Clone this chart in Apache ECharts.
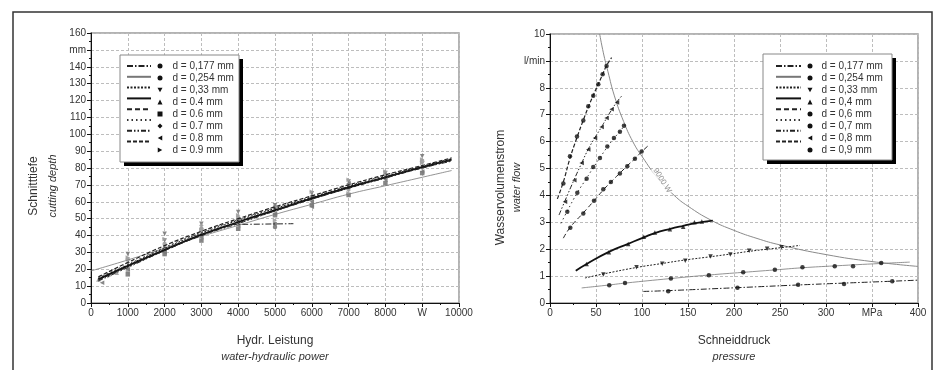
<!DOCTYPE html>
<html><head><meta charset="utf-8">
<script src="https://cdn.jsdelivr.net/npm/echarts@6/dist/echarts.min.js"></script>
<style>html,body{margin:0;padding:0;background:#fff}#c{width:938px;height:370px}</style>
</head><body><div id="c"></div>
<script>
// ---------- tick labels ----------
const leftXTickLabels = ['0','1000','2000','3000','4000','5000','6000','7000','8000','W','10000'];
const leftYTickLabels = ['0','10','20','30','40','50','60','70','80','90','100','110','120','130','140','mm','160'];
const rightXTickLabels = ['0','50','100','150','200','250','300','MPa','400'];
const rightYTickLabels = ['0','1','2','3','4','5','6','7','8','l/min','10'];

// ---------- legend labels ----------
const leftLegendLabels = ['d = 0,177 mm','d = 0,254 mm','d = 0,33 mm','d = 0.4 mm','d = 0.6 mm','d = 0.7 mm','d = 0.8 mm','d = 0.9 mm'];
const rightLegendLabels = ['d = 0,177 mm','d = 0,254 mm','d = 0,33 mm','d = 0,4 mm','d = 0,6 mm','d = 0,7 mm','d = 0,8 mm','d = 0,9 mm'];

// ---------- left chart: cutting depth vs hydraulic power ----------
const leftFitX = [200,1000,2000,3000,4000,5000,6000,7000,8000,9000,9800];
const leftFit0177X = [3800,5500];
const leftFit0177Y = [46.5,47];
const leftFit0254X = [0,1000,2000,3000,4000,5000,6000,7000,8000,9000,9800];
const leftFit0254Y = [19,25.5,32.5,39.5,46,52.5,58.5,64.5,69.5,74.5,78.5];
const leftFit033Y = [14.5,22.5,32.5,41.5,49,56,62.5,69,75,81,85.5];
const leftFit04Y  = [14,22,31.5,40.5,48,55,62,68.5,74.5,80.5,85];
const leftFit06Y  = [13.5,21.5,31,40,47.5,54.5,61.5,68,74.5,80,84.5];
const leftFit07Y  = [15,23,33,42,49.5,56.5,63,69.5,75.5,81,85];
const leftFit08Y  = [13,21,31,40,47,54.5,61.5,68,74,80,84];
const leftFit09Y  = [15.5,24,34,42.5,50,57,63.5,70,76,81.5,86];

const leftPts0177 = [[4000,48],[5000,47],[5000,45]];
const leftPts0254 = [[1000,26],[1000,19],[2000,35],[3000,44],[4000,50],[5000,57],[6000,63],[7000,70],[8000,76],[9000,84]];
const leftPts033  = [[1000,29],[2000,41],[2000,37],[3000,47],[4000,54],[5000,58],[6000,65],[7000,72],[8000,77],[9000,87]];
const leftPts04   = [[200,14],[700,18],[1000,21],[2000,32],[3000,41],[4000,48],[5000,55],[6000,62],[7000,69],[8000,75],[9000,81]];
const leftPts06   = [[1000,17],[2000,29],[3000,37],[4000,44],[5000,52],[6000,58],[7000,64],[8000,71],[9000,77]];
const leftPts07   = [[1000,24],[2000,33],[3000,46],[3000,44],[4000,51],[5000,56],[6000,61],[7000,67],[8000,74],[9000,80]];
const leftPts08   = [[300,12],[1000,20],[2000,30],[3000,39],[4000,46],[5000,53],[6000,60],[6000,57],[7000,71],[8000,73],[9000,78]];
const leftPts09   = [[500,16],[1000,27],[2000,38],[3000,43],[4000,52],[5000,49],[6000,66],[7000,73],[7000,65],[8000,78],[9000,85],[9000,83]];

// ---------- right chart: water flow vs pressure ----------
const powerCurve9000W = [[54,10],[58,9.3],[63,8.6],[70,7.7],[80,6.75],[90,6.0],[100,5.45],[118,4.6],[135,4.0],[150,3.6],[175,3.08],[200,2.7],[225,2.4],[250,2.16],[300,1.8],[350,1.54],[400,1.36]];
const powerCurveLabelPoint = [[122,4.55]];
const powerCurveLabel = '9000 W';
const rightFit0177 = [[101.4,0.43],[128.5,0.46],[203.8,0.57],[269.7,0.67],[319.6,0.74],[372,0.81],[400,0.85]];
const rightFit0254 = [[34.4,0.56],[64.4,0.67],[81.5,0.74],[131.4,0.91],[172.7,1.04],[210,1.14],[244.4,1.23],[274.4,1.31],[309.5,1.38],[360,1.47],[391,1.52]];
const rightFit033  = [[38,0.93],[58,1.08],[94,1.32],[122,1.47],[147,1.6],[174.5,1.72],[196,1.82],[216.5,1.92],[236,2.0],[251.6,2.06],[271.5,2.14]];
const rightFit04   = [[28,1.2],[39.8,1.45],[64,1.9],[85,2.2],[102,2.44],[114,2.6],[130,2.75],[145,2.87],[160,2.98],[177,3.06]];
const rightFit06   = [[14.5,2.41],[22.1,2.82],[36.2,3.35],[47.8,3.8],[57.9,4.2],[66.2,4.5],[76,4.83],[84,5.1],[92.3,5.37],[99.6,5.62],[106.8,5.85]];
const rightFit07   = [[11.9,2.96],[18.8,3.42],[29.7,4.1],[39.8,4.64],[47,5.03],[54.3,5.4],[62.3,5.8],[69.5,6.12],[76,6.38],[81.5,6.62]];
const rightFit08   = [[9.8,3.27],[16.3,3.8],[26.4,4.6],[34.4,5.2],[41.6,5.72],[48.9,6.15],[56.1,6.55],[61.5,6.87],[67,7.18],[72.8,7.48],[78.6,7.72]];
const rightFit09   = [[8,3.87],[14.5,4.5],[21.7,5.38],[29.3,6.15],[36.2,6.8],[41.6,7.28],[47,7.72],[52.5,8.14],[57.2,8.5],[61.5,8.83],[67,9.12]];

const rightPts0177 = [[128.5,0.44],[203.8,0.57],[269.7,0.68],[319.6,0.71],[372,0.81]];
const rightPts0254 = [[64.4,0.66],[81.5,0.74],[131.4,0.91],[172.7,1.03],[210,1.14],[244.4,1.24],[274.4,1.33],[309.5,1.37],[329.4,1.37],[360,1.49]];
const rightPts033  = [[58,1.06],[94,1.33],[122,1.46],[147,1.57],[174.5,1.73],[196,1.8],[216.5,1.94],[236,2.02],[251.6,2.07]];
const rightPts04   = [[39.8,1.45],[64,1.89],[85,2.19],[102,2.46],[114,2.62],[130.3,2.74],[144.8,2.83],[157,3.0],[165,3.03]];
const rightPts06   = [[22.1,2.8],[36.2,3.33],[47.8,3.8],[57.9,4.23],[66.2,4.5],[76,4.81],[84,5.08],[92.3,5.36],[99.6,5.63]];
const rightPts07   = [[18.8,3.39],[29.7,4.1],[39.8,4.62],[47,5.06],[54.3,5.39],[62.3,5.82],[69.5,6.13],[76,6.37],[80.4,6.59]];
const rightPts08   = [[16.3,3.76],[26.4,4.56],[34.4,5.2],[41.6,5.71],[48.9,6.13],[56.1,6.54],[61.5,6.88],[67,7.2],[72.8,7.45]];
const rightPts09   = [[14.5,4.44],[21.7,5.46],[29.3,6.19],[36.2,6.78],[41.6,7.31],[47,7.7],[52.5,8.13],[57.2,8.5],[61.5,8.81]];

// ---------- styles ----------
const FONT = 'Liberation Sans, Arial, sans-serif';
const lineStyles = [
  {color:'#222', width:1, type:[6,2,1.5,2]},
  {color:'#777', width:0.8, type:'solid'},
  {color:'#222', width:1, type:[2,1.5]},
  {color:'#111', width:1.8, type:'solid'},
  {color:'#222', width:1, type:[5,3]},
  {color:'#333', width:1, type:[1.5,3]},
  {color:'#222', width:1, type:[5,2,1.5,2,1.5,2]},
  {color:'#222', width:1.2, type:[4,2]}
];
const TRI_DOWN = 'path://M0,0L10,0L5,9Z';
const TRI_LEFT = 'path://M9,0L9,10L0,5Z';
const TRI_RIGHT = 'path://M0,0L0,10L9,5Z';
const leftSymbols  = ['circle','circle',TRI_DOWN,'triangle','rect','diamond',TRI_LEFT,TRI_RIGHT];
const rightSymbols = ['circle','circle',TRI_DOWN,'triangle','circle','circle',TRI_LEFT,'circle'];

const zip = (xs, ys) => xs.map((x,i)=>[x, ys[i]]);
const leftFits = [
  zip(leftFit0177X,leftFit0177Y), zip(leftFit0254X,leftFit0254Y), zip(leftFitX,leftFit033Y), zip(leftFitX,leftFit04Y),
  zip(leftFitX,leftFit06Y), zip(leftFitX,leftFit07Y), zip(leftFitX,leftFit08Y), zip(leftFitX,leftFit09Y)
];
const leftPts = [leftPts0177,leftPts0254,leftPts033,leftPts04,leftPts06,leftPts07,leftPts08,leftPts09];
const rightFits = [rightFit0177,rightFit0254,rightFit033,rightFit04,rightFit06,rightFit07,rightFit08,rightFit09];
const rightPts = [rightPts0177,rightPts0254,rightPts033,rightPts04,rightPts06,rightPts07,rightPts08,rightPts09];

const series = [];
const legL1 = [], legL2 = [], legR1 = [], legR2 = [];
const nameMap = {};
for (let i=0;i<8;i++){
  const nLf='Lf'+i, nLp='Lp'+i, nRf='Rf'+i, nRp='Rp'+i;
  legL1.push(nLf); legR1.push(nRf);
  legL2.push({name:nLp, icon:leftSymbols[i]}); legR2.push({name:nRp, icon:rightSymbols[i]});
  nameMap[nLp]=leftLegendLabels[i]; nameMap[nRp]=rightLegendLabels[i];
  series.push({name:nLp,type:'scatter',xAxisIndex:0,yAxisIndex:0,data:leftPts[i],
    symbol:leftSymbols[i],symbolSize:4.5,
    itemStyle:{color: i%2? '#a0a0a0':'#7a7a7a', opacity:0.9},z:2});
  series.push({name:nLf,type:'line',xAxisIndex:0,yAxisIndex:0,data:leftFits[i],smooth:true,
    symbol:'none',itemStyle:{color:lineStyles[i].color},lineStyle:lineStyles[i],z:3});
  series.push({name:nRp,type:'scatter',xAxisIndex:1,yAxisIndex:1,data:rightPts[i],
    symbol:rightSymbols[i],symbolSize:4.5,
    itemStyle:{color:'#111'},z:4});
  series.push({name:nRf,type:'line',xAxisIndex:1,yAxisIndex:1,data:rightFits[i],smooth:true,
    symbol:'none',itemStyle:{color:lineStyles[i].color},lineStyle:lineStyles[i],z:3});
}
series.push({name:'P9000',type:'line',xAxisIndex:1,yAxisIndex:1,smooth:true,symbol:'none',
  data: powerCurve9000W, itemStyle:{color:'#8a8a8a'}, lineStyle:{color:'#8a8a8a',width:1},z:2});
series.push({name:'P9000label',type:'scatter',xAxisIndex:1,yAxisIndex:1,data:powerCurveLabelPoint,
  symbolSize:2,itemStyle:{color:'rgba(0,0,0,0)'},z:5,
  label:{show:true,formatter:powerCurveLabel,position:'inside',rotate:-58,color:'#777',fontSize:8,
    fontFamily:FONT,backgroundColor:'#fff',padding:[0,1]}});

function axisCommon(labels, interval){
  return {
    interval: interval,
    nameMoveOverlap: false,
    axisLine:{show:true,lineStyle:{color:'#111',width:1}},
    axisTick:{show:true,length:4,lineStyle:{color:'#111'}},
    minorTick:{show:true,splitNumber:2,length:2,lineStyle:{color:'#111'}},
    splitLine:{show:true,lineStyle:{color:'#bdbdbd',type:[3,2],width:1}},
    axisLabel:{fontFamily:FONT,fontSize:10,color:'#333',margin:5,
      formatter:(v)=>labels[Math.round(v/interval)]}
  };
}

const richI = {i:{fontStyle:'italic',fontSize:11,fontFamily:FONT,color:'#333'}};
const legCommon = {orient:'vertical',padding:0,itemGap:0,selectedMode:false,z:10};
const legTextL = {fontFamily:FONT,fontSize:10,color:'#333',rich:{a:{fontFamily:FONT,fontSize:10,color:'#333',height:12,lineHeight:12,padding:[0,0,0,5]}}};
const legTextR = {fontFamily:FONT,fontSize:10,color:'#333',rich:{a:{fontFamily:FONT,fontSize:10,color:'#333',height:12,lineHeight:12,padding:[0,0,0,4]}}};
const option = {
  animation:false,
  backgroundColor:'#fff',
  grid:[
    {left:91,top:33,width:368,height:271,show:true,borderColor:'#9a9a9a',borderWidth:1.5,backgroundColor:'transparent'},
    {left:550,top:34,width:368,height:271,show:true,borderColor:'#9a9a9a',borderWidth:1.5,backgroundColor:'transparent'}
  ],
  xAxis:[
    Object.assign({type:'value',gridIndex:0,min:0,max:10000,
      name:'Hydr. Leistung\n{i|water-hydraulic power}',nameLocation:'middle',nameGap:30,
      nameTextStyle:{fontFamily:FONT,fontSize:12,color:'#333',lineHeight:16,rich:richI}},
      axisCommon(leftXTickLabels,1000)),
    Object.assign({type:'value',gridIndex:1,min:0,max:400,
      name:'Schneiddruck\n{i|pressure}',nameLocation:'middle',nameGap:30,
      nameTextStyle:{fontFamily:FONT,fontSize:12,color:'#333',lineHeight:16,rich:richI}},
      axisCommon(rightXTickLabels,50))
  ],
  yAxis:[
    Object.assign({type:'value',gridIndex:0,min:0,max:160,
      name:'Schnitttiefe\n{i|cutting depth}',nameLocation:'middle',nameGap:29,
      nameTextStyle:{fontFamily:FONT,fontSize:12,color:'#333',lineHeight:19,padding:[0,36,0,0],rich:richI}},
      axisCommon(leftYTickLabels,10)),
    Object.assign({type:'value',gridIndex:1,min:0,max:10,
      name:'Wasservolumenstrom\n{i|water flow}',nameLocation:'middle',nameGap:25,
      nameTextStyle:{fontFamily:FONT,fontSize:12,color:'#333',lineHeight:16,padding:[0,38,0,0],rich:richI}},
      axisCommon(rightYTickLabels,1))
  ],
  legend:[
    Object.assign({},legCommon,{data:legL1,left:126,top:60,itemWidth:24,itemHeight:12,formatter:()=>'',itemStyle:{opacity:0},textStyle:legTextL}),
    Object.assign({},legCommon,{data:legL2,left:157.5,top:60,itemWidth:5,itemHeight:5,formatter:(n)=>'{a|'+nameMap[n]+'}',itemStyle:{color:'#111',opacity:1},textStyle:legTextL}),
    Object.assign({},legCommon,{data:legR1,left:775,top:60,itemWidth:25,itemHeight:12,formatter:()=>'',itemStyle:{opacity:0},textStyle:legTextR}),
    Object.assign({},legCommon,{data:legR2,left:807.5,top:60,itemWidth:5,itemHeight:5,formatter:(n)=>'{a|'+nameMap[n]+'}',itemStyle:{color:'#111',opacity:1},textStyle:legTextR})
  ],
  graphic:[
    {type:'rect',shape:{x:13,y:12,width:919,height:380},style:{fill:'none',stroke:'#333',lineWidth:1.5},z:0,silent:true},
    {type:'rect',shape:{x:124,y:59,width:119,height:107},style:{fill:'#000'},z:5,silent:true},
    {type:'rect',shape:{x:120,y:55,width:119,height:107},style:{fill:'#fff',stroke:'#888',lineWidth:1},z:6,silent:true},
    {type:'rect',shape:{x:767,y:58,width:129,height:106},style:{fill:'#000'},z:5,silent:true},
    {type:'rect',shape:{x:763,y:54,width:129,height:106},style:{fill:'#fff',stroke:'#888',lineWidth:1},z:6,silent:true}
  ],
  series: series
};
const chart = echarts.init(document.getElementById('c'),null,{renderer:'canvas'});
chart.setOption(option);
</script></body></html>
